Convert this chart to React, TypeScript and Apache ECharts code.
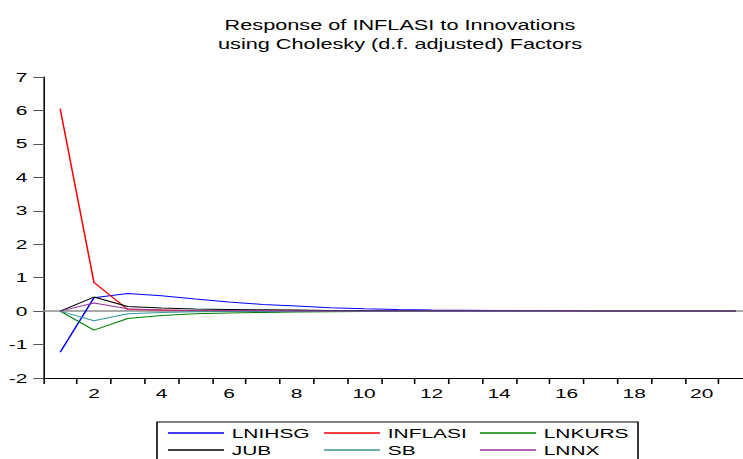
import React, { useEffect, useRef } from "react";
import * as echarts from "echarts";

// ---- data ----
const periods = ["1","2","3","4","5","6","7","8","9","10","11","12","13","14","15","16","17","18","19","20","21"];
const seriesNames = ["LNIHSG", "INFLASI", "LNKURS", "JUB", "SB", "LNNX"];
const lnihsg = [-1.23, 0.40, 0.53, 0.46, 0.36, 0.27, 0.20, 0.15, 0.10, 0.07, 0.05, 0.035, 0.025, 0.018, 0.013, 0.009, 0.006, 0.004, 0.003, 0.002, 0.001];
const inflasi = [6.05, 0.86, 0.05, 0.03, 0.01, 0.0, -0.005, -0.005, -0.004, -0.003, -0.002, -0.002, -0.001, -0.001, -0.001, 0, 0, 0, 0, 0, 0];
const lnkurs = [0, -0.57, -0.22, -0.13, -0.08, -0.06, -0.04, -0.03, -0.02, -0.015, -0.01, -0.008, -0.006, -0.004, -0.003, -0.002, -0.002, -0.001, -0.001, -0.001, 0];
const jub = [0, 0.42, 0.14, 0.09, 0.06, 0.05, 0.04, 0.03, 0.02, 0.015, 0.01, 0.008, 0.006, 0.004, 0.003, 0.002, 0.002, 0.001, 0.001, 0.001, 0];
const sb = [0, -0.29, -0.08, -0.04, -0.02, -0.015, -0.01, -0.008, -0.006, -0.004, -0.003, -0.002, -0.002, -0.001, -0.001, -0.001, 0, 0, 0, 0, 0];
const lnnx = [0, 0.24, 0.07, 0.03, 0.02, 0.012, 0.008, 0.006, 0.004, 0.003, 0.002, 0.002, 0.001, 0.001, 0.001, 0, 0, 0, 0, 0, 0];
const seriesValues = [lnihsg, inflasi, lnkurs, jub, sb, lnnx];
const seriesColors = ["#0000ff", "#ff0000", "#008000", "#000000", "#339999", "#993399"];
const yMin = -2;
const yMax = 7;
const titleText = "Response of INFLASI to Innovations\nusing Cholesky (d.f. adjusted) Factors";

// the reference is horizontally stretched; draw narrower and stretch with CSS
const S = 1.55;
const INNER_W = 490;
const H = 459;
const X = (px: number) => px / S;
const FONT = '"Liberation Sans", Arial, sans-serif';

export default function App() {
  const ref = useRef<HTMLDivElement>(null);

  useEffect(() => {
    if (!ref.current) return;
    const chart = echarts.init(ref.current, undefined, { renderer: "svg" });

    const series: any[] = seriesNames.map((name, i) => ({
      name,
      type: "line",
      data: seriesValues[i],
      symbol: "none",
      z: 3,
      lineStyle: { color: seriesColors[i], width: 1 },
      itemStyle: { color: seriesColors[i] },
      ...(i === 0
        ? {
            markLine: {
              silent: true,
              z: 1,
              symbol: ["none", "none"],
              label: { show: false },
              lineStyle: { color: "#8c8c8c", width: 1.5, type: "solid" },
              data: [{ yAxis: 0 }],
            },
          }
        : {}),
    }));

    const legendCols = [
      [seriesNames[0], seriesNames[3]],
      [seriesNames[1], seriesNames[4]],
      [seriesNames[2], seriesNames[5]],
    ];
    const legendLefts = [X(168), X(324), X(480)];

    chart.setOption({
      animation: false,
      backgroundColor: "#ffffff",
      grid: {
        left: X(43.3),
        right: INNER_W - X(752.3),
        top: 77,
        bottom: H - 378,
        containLabel: false,
      },
      xAxis: {
        type: "category",
        data: periods,
        boundaryGap: true,
        axisLine: { show: true, onZero: false, lineStyle: { color: "#000", width: 1 } },
        axisTick: { show: true, interval: 0, length: 6, lineStyle: { color: "#000" } },
        axisLabel: {
          interval: (i: number) => i % 2 === 1,
          margin: 8,
          fontSize: 13.5,
          color: "#000",
          fontFamily: FONT,
        },
        splitLine: { show: false },
      },
      yAxis: {
        type: "value",
        min: yMin,
        max: yMax,
        interval: 1,
        axisLine: { show: true, lineStyle: { color: "#000", width: 1 } },
        axisTick: { show: true, length: X(10), lineStyle: { color: "#555" } },
        axisLabel: { margin: X(16), fontSize: 13.5, color: "#000", fontFamily: FONT },
        splitLine: { show: false },
      },
      legend: legendCols.map((col, i) => ({
        data: col,
        orient: "vertical",
        left: legendLefts[i],
        top: 426,
        padding: 0,
        icon: "path://M0 0H24V1H0Z",
        itemWidth: X(56),
        itemHeight: 14,
        itemGap: 3,
        selectedMode: false,
        textStyle: { fontSize: 13.5, color: "#000", fontFamily: FONT, lineHeight: 14 },
      })),
      graphic: [
        {
          type: "text",
          x: X(400),
          y: 34.5,
          style: {
            text: titleText,
            align: "center",
            verticalAlign: "middle",
            fontSize: 14,
            fontFamily: FONT,
            lineHeight: 19,
            fill: "#000",
          },
        },
        {
          type: "rect",
          shape: { x: X(157), y: 422, width: X(638 - 157), height: 60 },
          style: { fill: "none", stroke: "#000", lineWidth: 1 },
        },
      ],
      series,
    });

    return () => chart.dispose();
  }, []);

  return (
    <div
      style={{
        position: "fixed",
        left: 0,
        top: 0,
        width: 743,
        height: H,
        overflow: "hidden",
        background: "#fff",
      }}
    >
      <div
        ref={ref}
        style={{
          width: INNER_W,
          height: H,
          transform: `scaleX(${S})`,
          transformOrigin: "0 0",
        }}
      />
    </div>
  );
}
